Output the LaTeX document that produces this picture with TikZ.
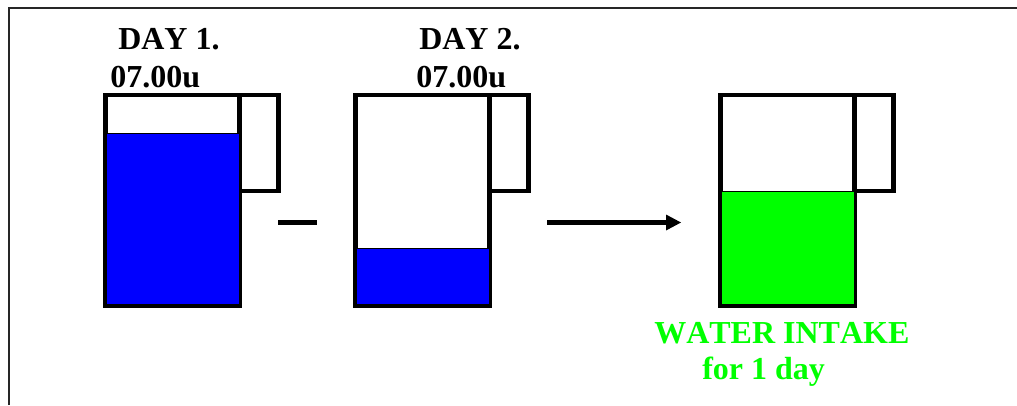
\documentclass[tikz,border=0pt]{standalone}
\usepackage{fontspec}
\setmainfont[Kerning=Off]{Liberation Serif}
\usepackage{tikz}
\usetikzlibrary{shapes,arrows}
\definecolor{waterblue}{RGB}{0,0,255}
\definecolor{intakegreen}{RGB}{0,255,0}
\tikzstyle{jug} = [rectangle, draw, line width=3.4pt, fill=white, inner sep=0pt,
	outer sep=0pt, minimum width=100.5pt, minimum height=158.25pt]
\tikzstyle{handle} = [rectangle, draw, line width=3.4pt, inner sep=0pt,
	outer sep=0pt, anchor=north west, minimum width=29.25pt, minimum height=72pt]
\tikzstyle{water} = [rectangle, draw, line width=0.75pt, inner sep=0pt,
	outer sep=0pt, anchor=south, yshift=1pt, minimum width=99.75pt]
\tikzstyle{label} = [inner sep=0pt, anchor=base west, font=\bfseries\fontsize{24}{28}\selectfont]
\tikzstyle{line} = [draw, line width=3.4pt]

\begin{document}
\begin{tikzpicture}[x=0.75pt, y=-0.75pt]
	\useasboundingbox (0,0) rectangle (1017,405);

	% Place frame
	\coordinate (frameBL) at (9,405);
	\coordinate (frameTL) at (9,8);
	\coordinate (frameTR) at (1017,8);
	\draw [line width=1pt, black!85] (frameBL) -- (frameTL) -- (frameTR);

	% Place jugs
	\node [jug] (jugA) at (172.5,200.5) {};
	\node [handle] (handleA) at (jugA.north east) {};
	\node [water, fill=waterblue, minimum height=128.75pt] (waterA) at (jugA.south) {};
	\node [jug] (jugB) at (422.5,200.5) {};
	\node [handle] (handleB) at (jugB.north east) {};
	\node [water, fill=waterblue, minimum height=42.5pt] (waterB) at (jugB.south) {};
	\node [jug] (jugC) at (787.5,200.5) {};
	\node [handle] (handleC) at (jugC.north east) {};
	\node [water, fill=intakegreen, minimum height=85.25pt] (waterC) at (jugC.south) {};

	% Place labels
	\node [label] (dayA) at (118,49) {DAY 1.};
	\node [label] (timeA) at (110,87) {07.00u};
	\node [label] (dayB) at (419,49) {DAY 2.};
	\node [label] (timeB) at (416,87) {07.00u};
	\node [label, text=intakegreen] (intake) at (654,343) {WATER INTAKE};
	\node [label, text=intakegreen] (period) at (702,379) {for 1 day};

	% Draw edges
	\coordinate (minusL) at (278,222.5);
	\coordinate (minusR) at (317,222.5);
	\coordinate (arrowL) at (547,222.5);
	\coordinate (arrowR) at (666,222.5);
	\coordinate (arrowT) at (681,222.5);
	\path [line] (minusL) -- (minusR);
	\path [line] (arrowL) -- (arrowR);
	\fill (arrowT) -- ([yshift=6pt]arrowR) -- ([yshift=-6pt]arrowR) -- cycle;
\end{tikzpicture}
\end{document}
